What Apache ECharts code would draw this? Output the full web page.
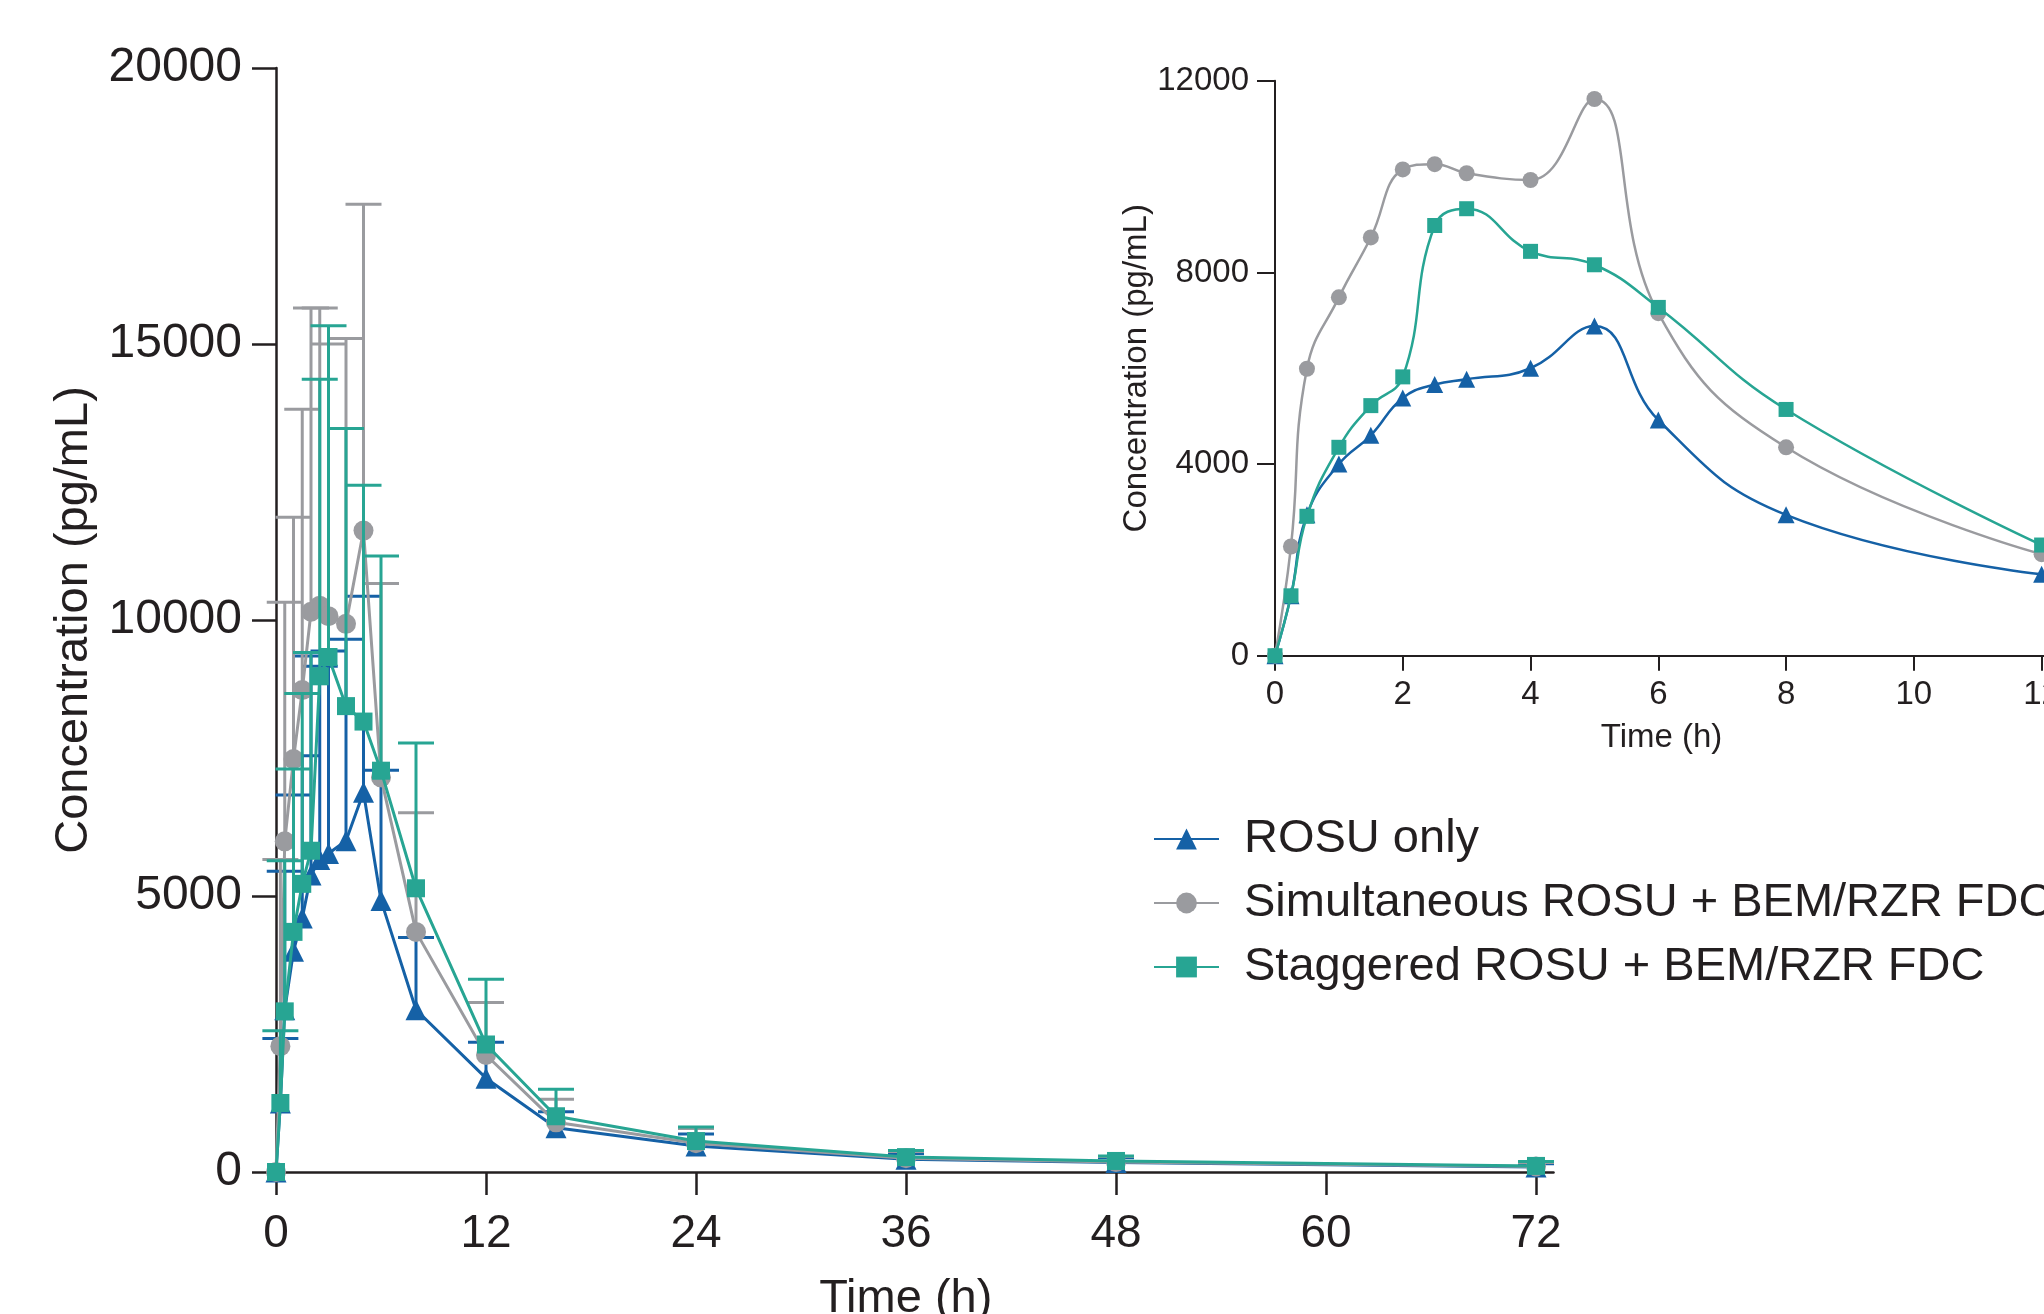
<!DOCTYPE html>
<html>
<head>
<meta charset="utf-8">
<script src="https://cdn.jsdelivr.net/npm/echarts@6/dist/echarts.min.js"></script>
<style>
html,body{margin:0;padding:0;background:#fff;}
#chart{width:2044px;height:1314px;}
</style>
</head>
<body>
<div id="chart"></div>
<script>
// ---- data ----
const times = [0, 0.25, 0.5, 1, 1.5, 2, 2.5, 3, 4, 5, 6, 8, 12, 16, 24, 36, 48, 72];
const seriesNames = ['ROSU only', 'Simultaneous ROSU + BEM/RZR FDC', 'Staggered ROSU + BEM/RZR FDC'];
const rosuMean  = [0, 1250, 2940, 4000, 4600, 5380, 5660, 5770, 6000, 6880, 4920, 2940, 1700, 800, 470, 230, 170, 90];
const rosuUpper = [0, 2420, 5450, 6830, 7540, 9350, 9160, 9440, 9650, 10430, 7280, 4250, 2350, 1090, 690, 330, 260, 150];
const simMean   = [0, 2280, 5990, 7480, 8730, 10150, 10260, 10070, 9930, 11620, 7150, 4350, 2120, 900, 520, 250, 180, 100];
const simUpper  = [0, 5660, 10320, 11860, 13820, 15650, 15650, 15000, 15100, 17530, 10660, 6510, 3070, 1320, 790, 370, 280, 170];
const stagMean  = [0, 1250, 2910, 4350, 5220, 5820, 8980, 9330, 8440, 8160, 7270, 5140, 2310, 1010, 560, 270, 200, 110];
const stagUpper = [0, 2560, 5640, 7300, 8670, 9410, 14360, 15330, 13470, 12440, 11160, 7770, 3490, 1500, 815, 390, 290, 190];
const mainXTicks = [0, 12, 24, 36, 48, 60, 72];
const insetXTicks = [0, 2, 4, 6, 8, 10, 12];
const insetMaxTime = 12;

// ---- styling ----
const FONT = 'Liberation Sans, Arial, Helvetica, sans-serif';
const INK = '#231f20';
const colors = ['#1561a6', '#9a9b9f', '#27a593'];
const symbols = ['triangle', 'circle', 'rect'];
const mainSymSize = [21, 20, 18];
const insetSymSize = [17, 16, 15];

const means = [rosuMean, simMean, stagMean];
const uppers = [rosuUpper, simUpper, stagUpper];

function pairs(t, v) { return t.map((x, i) => [x, v[i]]); }
function errRows(t, m, u) { return t.map((x, i) => [x, m[i], u[i]]); }
function insetPairs(t, v) { return t.map((x, i) => [x, v[i]]).filter(p => p[0] <= insetMaxTime); }

const series = [];
for (let k = 0; k < 3; k++) {
  const col = colors[k];
  series.push({
    type: 'custom',
    name: seriesNames[k] + ' SD',
    xAxisIndex: 0, yAxisIndex: 0,
    z: 1 + 2 * k,
    silent: true,
    encode: { x: 0, y: [1, 2] },
    data: errRows(times, means[k], uppers[k]),
    renderItem: function (params, api) {
      const x = api.value(0), m = api.value(1), u = api.value(2);
      if (!(u > m)) return null;
      const p0 = api.coord([x, m]);
      const p1 = api.coord([x, u]);
      const hw = 18;
      const st = { stroke: col, lineWidth: 3 };
      return {
        type: 'group',
        children: [
          { type: 'line', shape: { x1: p0[0], y1: p0[1], x2: p1[0], y2: p1[1] }, style: st },
          { type: 'line', shape: { x1: p1[0] - hw, y1: p1[1], x2: p1[0] + hw, y2: p1[1] }, style: st }
        ]
      };
    }
  });
  series.push({
    type: 'line',
    name: seriesNames[k],
    xAxisIndex: 0, yAxisIndex: 0,
    z: 2 + 2 * k,
    data: pairs(times, means[k]),
    symbol: symbols[k],
    symbolSize: mainSymSize[k],
    showAllSymbol: true,
    lineStyle: { color: col, width: 3 },
    itemStyle: { color: col, opacity: 1 }
  });
}
for (let k = 0; k < 3; k++) {
  const col = colors[k];
  series.push({
    type: 'line',
    name: seriesNames[k],
    xAxisIndex: 1, yAxisIndex: 1,
    z: 10 + k,
    smooth: 0.45,
    data: insetPairs(times, means[k]),
    symbol: symbols[k],
    symbolSize: insetSymSize[k],
    showAllSymbol: true,
    lineStyle: { color: col, width: 2.5 },
    itemStyle: { color: col, opacity: 1 }
  });
}

const axisLineStyle = { color: INK, width: 2.5 };
const insetLineStyle = { color: INK, width: 2 };

const option = {
  animation: false,
  backgroundColor: '#ffffff',
  textStyle: { fontFamily: FONT },
  grid: [
    { left: 276, top: 68, width: 1277.5, height: 1104, outerBoundsMode: 'none', containLabel: false },
    { left: 1275, top: 80.8, width: 773, height: 574.9, outerBoundsMode: 'none', containLabel: false }
  ],
  legend: {
    orient: 'vertical',
    left: 1148, top: 809,
    itemWidth: 65, itemHeight: 26, itemGap: 14,
    selectedMode: false,
    data: seriesNames,
    textStyle: { fontSize: 47, color: INK, fontFamily: FONT, padding: [0, 0, 0, 20], lineHeight: 50 }
  },
  xAxis: [
    {
      type: 'value', gridIndex: 0, min: 0, max: 73, interval: 12,
      splitLine: { show: false },
      axisLine: { show: true, onZero: false, lineStyle: axisLineStyle },
      axisTick: { show: true, length: 23, customValues: mainXTicks, lineStyle: axisLineStyle },
      axisLabel: { customValues: mainXTicks, margin: 39, fontSize: 46, color: INK, fontFamily: FONT, formatter: v => String(v) },
      name: 'Time (h)', nameLocation: 'middle', nameGap: 104,
      nameTextStyle: { fontSize: 47, color: INK, fontFamily: FONT, padding: [0, 18, 0, 0] }
    },
    {
      type: 'value', gridIndex: 1, min: 0, max: 12.1, interval: 2,
      splitLine: { show: false },
      axisLine: { show: true, onZero: false, lineStyle: insetLineStyle },
      axisTick: { show: true, length: 15, customValues: insetXTicks, lineStyle: insetLineStyle },
      axisLabel: { customValues: insetXTicks, margin: 23, fontSize: 33, color: INK, fontFamily: FONT, formatter: v => String(v) },
      name: 'Time (h)', nameLocation: 'middle', nameGap: 66,
      nameTextStyle: { fontSize: 33, color: INK, fontFamily: FONT }
    }
  ],
  yAxis: [
    {
      type: 'value', gridIndex: 0, min: 0, max: 20000, interval: 5000,
      splitLine: { show: false },
      axisLine: { show: true, lineStyle: axisLineStyle },
      axisTick: { show: true, length: 24, lineStyle: axisLineStyle },
      axisLabel: { margin: 34, fontSize: 48, color: INK, fontFamily: FONT, formatter: v => String(v) },
      name: 'Concentration (pg/mL)', nameLocation: 'middle', nameGap: 178,
      nameTextStyle: { fontSize: 47, color: INK, fontFamily: FONT }
    },
    {
      type: 'value', gridIndex: 1, min: 0, max: 12000, interval: 4000,
      splitLine: { show: false },
      axisLine: { show: true, lineStyle: insetLineStyle },
      axisTick: { show: true, length: 18, lineStyle: insetLineStyle },
      axisLabel: { margin: 26, fontSize: 33, color: INK, fontFamily: FONT, formatter: v => String(v) },
      name: 'Concentration (pg/mL)', nameLocation: 'middle', nameGap: 119,
      nameTextStyle: { fontSize: 33, color: INK, fontFamily: FONT }
    }
  ],
  series: series
};

const chart = echarts.init(document.getElementById('chart'), null, { renderer: 'canvas' });
chart.setOption(option);
</script>
</body>
</html>
